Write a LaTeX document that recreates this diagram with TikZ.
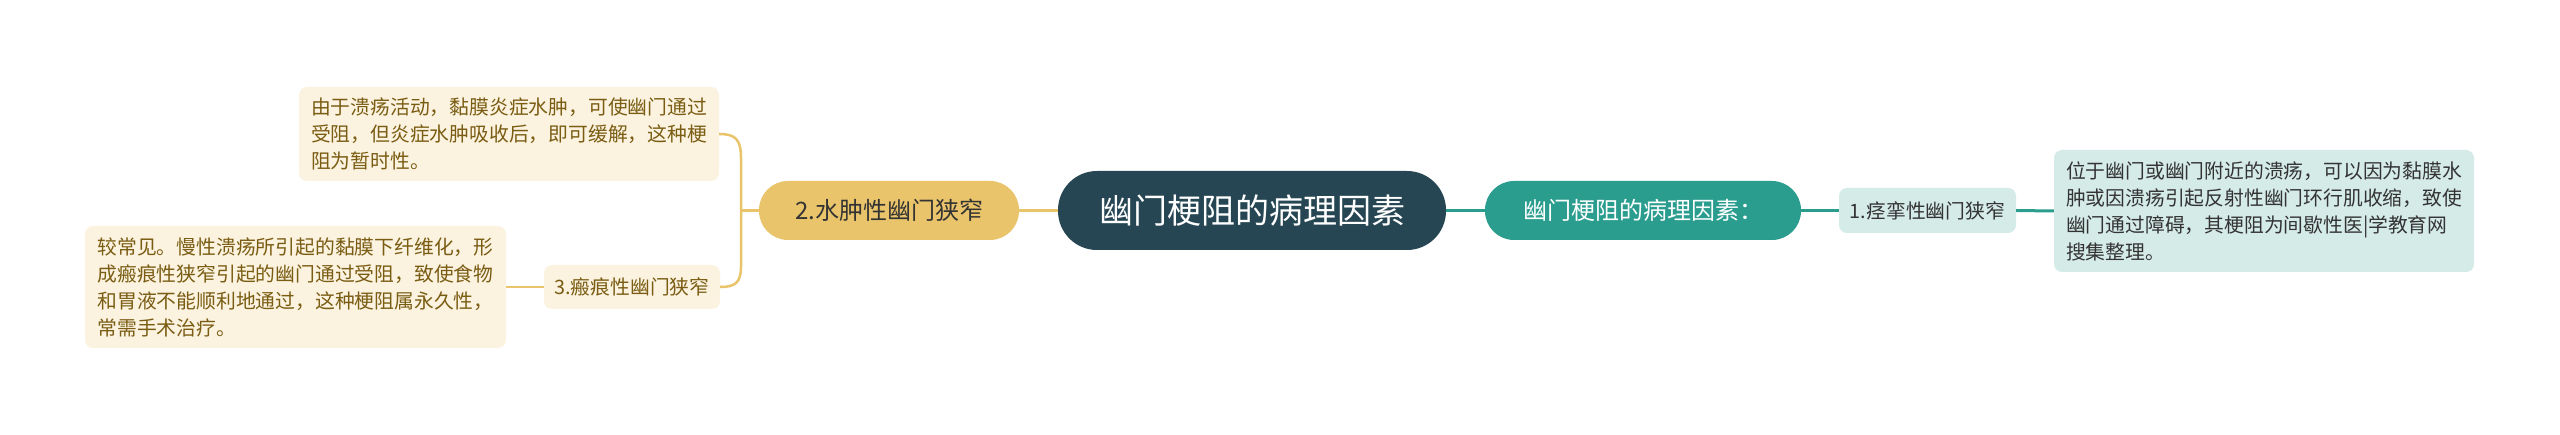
\documentclass[tikz,border=0pt]{standalone}
\usepackage{fontspec}
\setmainfont{Noto Sans CJK SC}
\definecolor{dark}{HTML}{264653}
\definecolor{teal}{HTML}{2A9D8F}
\definecolor{gold}{HTML}{E9C46A}
\definecolor{cream}{HTML}{FBF3E0}
\definecolor{lteal}{HTML}{D5EBE8}
\definecolor{goldtext}{HTML}{7A5C12}
\definecolor{txt}{HTML}{333333}
\tikzset{
  pill/.style={inner sep=0pt, align=center},
  desc/.style={inner xsep=10pt, inner ysep=6pt, align=left, rounded corners=8pt,
    font=\fontsize{19.8pt}{27pt}\selectfont},
  goldline/.style={draw=gold, line width=2.5pt},
  tealline/.style={draw=teal, line width=3pt},
}
\begin{document}
\begin{tikzpicture}[x=1pt,y=-1pt]
\useasboundingbox (0,0) rectangle (2560,435);
\fill[white] (0,0) rectangle (2560,435);
% nodes
\node[pill, fill=dark, text=white, minimum width=388pt, minimum height=79pt,
  rounded corners=39pt, font=\fontsize{34pt}{40pt}\selectfont] (c) at (1252,210.5) {幽门梗阻的病理因素};
\node[pill, fill=gold, text=txt, minimum width=260pt, minimum height=59pt,
  rounded corners=29pt, font=\fontsize{24pt}{28pt}\selectfont] (n2) at (889,210.5) {2.水肿性幽门狭窄};
\node[pill, fill=teal, text=white, minimum width=316pt, minimum height=59pt,
  rounded corners=29pt, font=\fontsize{24pt}{28pt}\selectfont] (nr) at (1643,210.5) {幽门梗阻的病理因素：};
\node[pill, fill=lteal, text=txt, minimum width=177pt, minimum height=45pt,
  rounded corners=8pt, font=\fontsize{19.8pt}{24pt}\selectfont] (n1) at (1927.5,210.5) {1.痉挛性幽门狭窄};
\node[pill, fill=cream, text=goldtext, minimum width=176pt, minimum height=44pt,
  rounded corners=8pt, font=\fontsize{19.8pt}{24pt}\selectfont] (n3) at (632,287) {3.瘢痕性幽门狭窄};
\node[desc, fill=lteal, text=txt, minimum width=420pt, minimum height=122pt] (d1) at (2264,211)
  {位于幽门或幽门附近的溃疡，可以因为黏膜水\\肿或因溃疡引起反射性幽门环行肌收缩，致使\\幽门通过障碍，其梗阻为间歇性医|学教育网\\搜集整理。};
\node[desc, fill=cream, text=goldtext, minimum width=420pt, minimum height=94pt] (dt) at (509,134)
  {由于溃疡活动，黏膜炎症水肿，可使幽门通过\\受阻，但炎症水肿吸收后，即可缓解，这种梗\\阻为暂时性。};
\node[desc, fill=cream, text=goldtext, minimum width=421pt, minimum height=122pt] (db) at (295.5,287)
  {较常见。慢性溃疡所引起的黏膜下纤维化，形\\成瘢痕性狭窄引起的幽门通过受阻，致使食物\\和胃液不能顺利地通过，这种梗阻属永久性，\\常需手术治疗。};
% connectors
\coordinate (lj) at (741,210.5);
\draw[goldline] (c.west) -- (n2.east);
\draw[tealline] (c.east) -- (nr.west);
\draw[tealline] (nr.east) -- (n1.west);
\draw[tealline] (n1.east) -- (d1.west);
\draw[goldline] (n2.west) -- (lj);
\draw[goldline] (dt.east) .. controls (736,134) and (741,140) .. (741,158) -- (741,266)
  .. controls (741,282) and (736,287) .. (n3.east);
\draw[goldline] (db.east) -- (n3.west);
\end{tikzpicture}
\end{document}
